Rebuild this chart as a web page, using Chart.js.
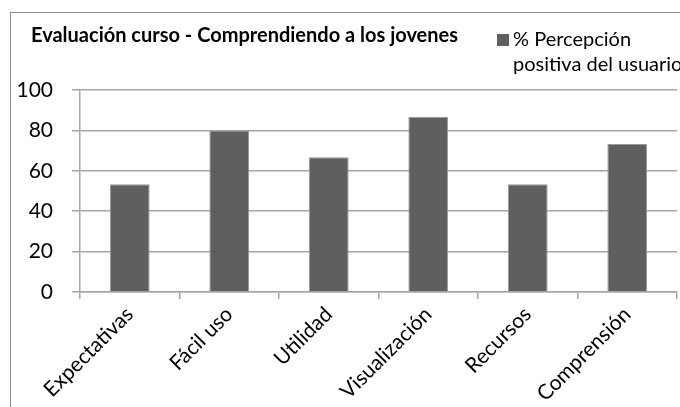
<!DOCTYPE html>
<html>
<head>
<meta charset="utf-8">
<script src="https://cdn.jsdelivr.net/npm/chart.js@4.4.1/dist/chart.umd.min.js"></script>
<style>
  html, body { margin: 0; padding: 0; background: #fff; }
  #wrap { width: 680px; height: 407px; }
</style>
</head>
<body>
<div id="wrap"><canvas id="chart" width="680" height="407"></canvas></div>
<script>
const titleText = "Evaluación curso - Comprendiendo a los jovenes"
const seriesLabel = ["% Percepción", "positiva del usuario"]
const categories = ["Expectativas", "Fácil uso", "Utilidad", "Visualización", "Recursos", "Comprensión"]
const values = [53.3, 80, 66.7, 86.7, 53.3, 73.3]
const yTicks = [0, 20, 40, 60, 80, 100]

const font = "Lato, 'Open Sans', sans-serif"
const barColor = "#5f5f5f"
const gridColor = "#a6a6a6"

// frame, title and two-line legend like the spreadsheet chart
const decorations = {
   id: "decorations",
   beforeDraw(chart) {
      const ctx = chart.ctx
      ctx.save()
      ctx.fillStyle = "#fff"
      ctx.fillRect(0, 0, chart.width, chart.height)
      ctx.strokeStyle = "#8c8c8c"
      ctx.lineWidth = 1
      ctx.strokeRect(10.5, 12.5, 700, 420)
      ctx.restore()
   },
   afterDraw(chart) {
      const ctx = chart.ctx
      ctx.save()
      ctx.fillStyle = "#000"
      ctx.textBaseline = "alphabetic"
      ctx.font = "bold 20px " + font
      ctx.fillText(titleText, 31, 42)

      ctx.fillStyle = barColor
      ctx.fillRect(497, 34, 12, 12)
      ctx.fillStyle = "#000"
      ctx.font = "20px " + font
      ctx.fillText(seriesLabel[0], 513, 46)
      ctx.fillText(seriesLabel[1], 513, 71)
      ctx.restore()
   },
}

const ctx = document.getElementById("chart").getContext("2d")
const chart = new Chart(ctx, {
   type: "bar",
   data: {
      labels: categories,
      datasets: [
         {
            label: seriesLabel.join(" "),
            data: values,
            backgroundColor: barColor,
            borderColor: "#9a9a9a",
            borderWidth: 1,
            categoryPercentage: 1,
            barPercentage: 0.4,
         },
      ],
   },
   options: {
      responsive: false,
      animation: false,
      layout: { padding: { top: 90, right: 3, left: 0, bottom: 0 } },
      plugins: {
         legend: { display: false },
         title: { display: false },
         tooltip: { enabled: false },
      },
      scales: {
         x: {
            grid: {
               drawOnChartArea: false,
               drawTicks: true,
               tickLength: 7,
               color: gridColor,
               lineWidth: 1.5,
            },
            border: { color: gridColor, width: 1.5 },
            ticks: {
               color: "#000",
               font: { family: font, size: 21 },
               maxRotation: 45,
               minRotation: 45,
               padding: 3,
            },
            afterFit: scale => {
               scale.height = 115
               scale.paddingLeft = 0
               scale.paddingRight = 0
            },
         },
         y: {
            min: 0,
            max: 100,
            afterBuildTicks: scale => {
               scale.ticks = yTicks.map(v => ({ value: v }))
            },
            grid: {
               color: gridColor,
               lineWidth: 1.5,
               tickLength: 8,
            },
            border: { color: gridColor, width: 1.5 },
            ticks: {
               color: "#000",
               font: { family: font, size: 21 },
               padding: 19,
            },
            afterFit: scale => {
               scale.width = 80
            },
         },
      },
   },
   plugins: [decorations],
})
</script>
</body>
</html>
